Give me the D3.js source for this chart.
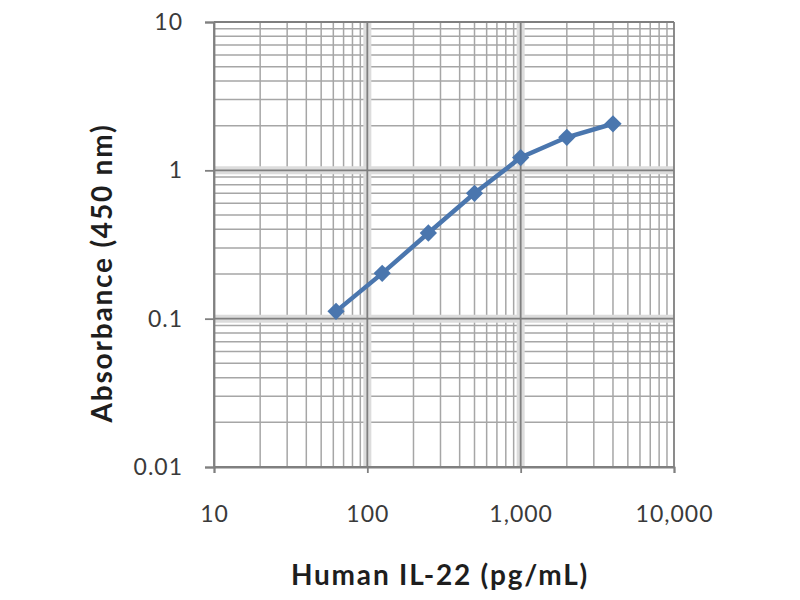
<!DOCTYPE html>
<html>
<head><meta charset="utf-8">
<title>IL-22 standard curve</title>
<script src="https://cdnjs.cloudflare.com/ajax/libs/d3/7.8.5/d3.min.js"></script>
<style>
body { margin:0; background:#fff; }
svg text { font-family: Lato, "Open Sans", sans-serif; }
</style>
</head>
<body>
<svg width="800" height="600"></svg>
<script>
// standard curve data
var conc = [62.5, 125, 250, 500, 1000, 2000, 4000];
var absorb = [0.112, 0.202, 0.378, 0.70, 1.22, 1.67, 2.06];
var xTicks = [10, 100, 1000, 10000];
var yTicks = [0.01, 0.1, 1, 10];

var svg = d3.select("svg");
var plotL = 214, plotR = 674, plotT = 22, plotB = 467;

var x = d3.scaleLog().domain([10, 10000]).range([plotL, plotR]);
var y = d3.scaleLog().domain([0.01, 10]).range([plotB, plotT]);

// minor grid values 2..9 per decade
var minorX = [], minorY = [];
[10, 100, 1000].forEach(function(d) {
  for (var i = 2; i < 10; i++) minorX.push(d * i);
});
[0.01, 0.1, 1].forEach(function(d) {
  for (var i = 2; i < 10; i++) minorY.push(d * i);
});

var grid = svg.append("g");
grid.selectAll(".mx").data(minorX).enter().append("line")
  .attr("x1", x).attr("x2", x).attr("y1", plotT).attr("y2", plotB)
  .attr("stroke", "#a6a6a6").attr("stroke-width", 1.5);
grid.selectAll(".my").data(minorY).enter().append("line")
  .attr("y1", y).attr("y2", y).attr("x1", plotL).attr("x2", plotR)
  .attr("stroke", "#a6a6a6").attr("stroke-width", 1.5);

// major lines with a soft band round them
grid.selectAll(".bx").data(xTicks.slice(1, 3)).enter().append("line")
  .attr("x1", x).attr("x2", x).attr("y1", plotT).attr("y2", plotB)
  .attr("stroke", "#dcdcdc").attr("stroke-width", 8);
grid.selectAll(".by").data(yTicks.slice(1, 3)).enter().append("line")
  .attr("y1", y).attr("y2", y).attr("x1", plotL).attr("x2", plotR)
  .attr("stroke", "#dcdcdc").attr("stroke-width", 8);
grid.selectAll(".gx").data(xTicks).enter().append("line")
  .attr("x1", x).attr("x2", x).attr("y1", plotT).attr("y2", plotB)
  .attr("stroke", "#7f7f7f").attr("stroke-width", 1.8);
grid.selectAll(".gy").data(yTicks).enter().append("line")
  .attr("y1", y).attr("y2", y).attr("x1", plotL).attr("x2", plotR)
  .attr("stroke", "#7f7f7f").attr("stroke-width", 1.8);

// axes
var fmt = d3.format(",");
var xAxis = svg.append("g").attr("transform", "translate(0," + plotB + ")")
  .call(d3.axisBottom(x).tickValues(xTicks).tickFormat(fmt).tickSize(6).tickPadding(33));
var yAxis = svg.append("g").attr("transform", "translate(" + plotL + ",0)")
  .call(d3.axisLeft(y).tickValues(yTicks).tickFormat(function(d) { return String(d); }).tickSize(9).tickPadding(22));
[xAxis, yAxis].forEach(function(a) {
  a.select(".domain").attr("stroke", "#808080").attr("stroke-width", 1.8);
  a.selectAll(".tick line").attr("stroke", "#808080").attr("stroke-width", 1.8);
  a.selectAll(".tick text").attr("fill", "#3a3a3a").attr("font-size", 23)
    .attr("letter-spacing", 1);
});

// series
svg.append("path")
  .datum(conc)
  .attr("fill", "none")
  .attr("stroke", "#4a76ae")
  .attr("stroke-width", 4.5)
  .attr("d", d3.line().x(function(d) { return x(d); }).y(function(d, i) { return y(absorb[i]); }));

svg.selectAll(".pt").data(conc).enter().append("path")
  .attr("d", d3.symbol().type(d3.symbolDiamond2).size(190))
  .attr("transform", function(d, i) { return "translate(" + x(d) + "," + y(absorb[i]) + ")"; })
  .attr("fill", "#4a76ae");

// titles
svg.append("text")
  .attr("x", 440).attr("y", 585)
  .attr("text-anchor", "middle")
  .attr("font-size", 28).attr("font-weight", "bold").attr("fill", "#1e1e1e")
  .attr("letter-spacing", 1.8)
  .text("Human IL-22 (pg/mL)");
svg.append("text")
  .attr("transform", "translate(112,273) rotate(-90)")
  .attr("text-anchor", "middle")
  .attr("font-size", 28).attr("font-weight", "bold").attr("fill", "#1e1e1e")
  .attr("letter-spacing", 1.8)
  .text("Absorbance (450 nm)");
</script>
</body>
</html>
